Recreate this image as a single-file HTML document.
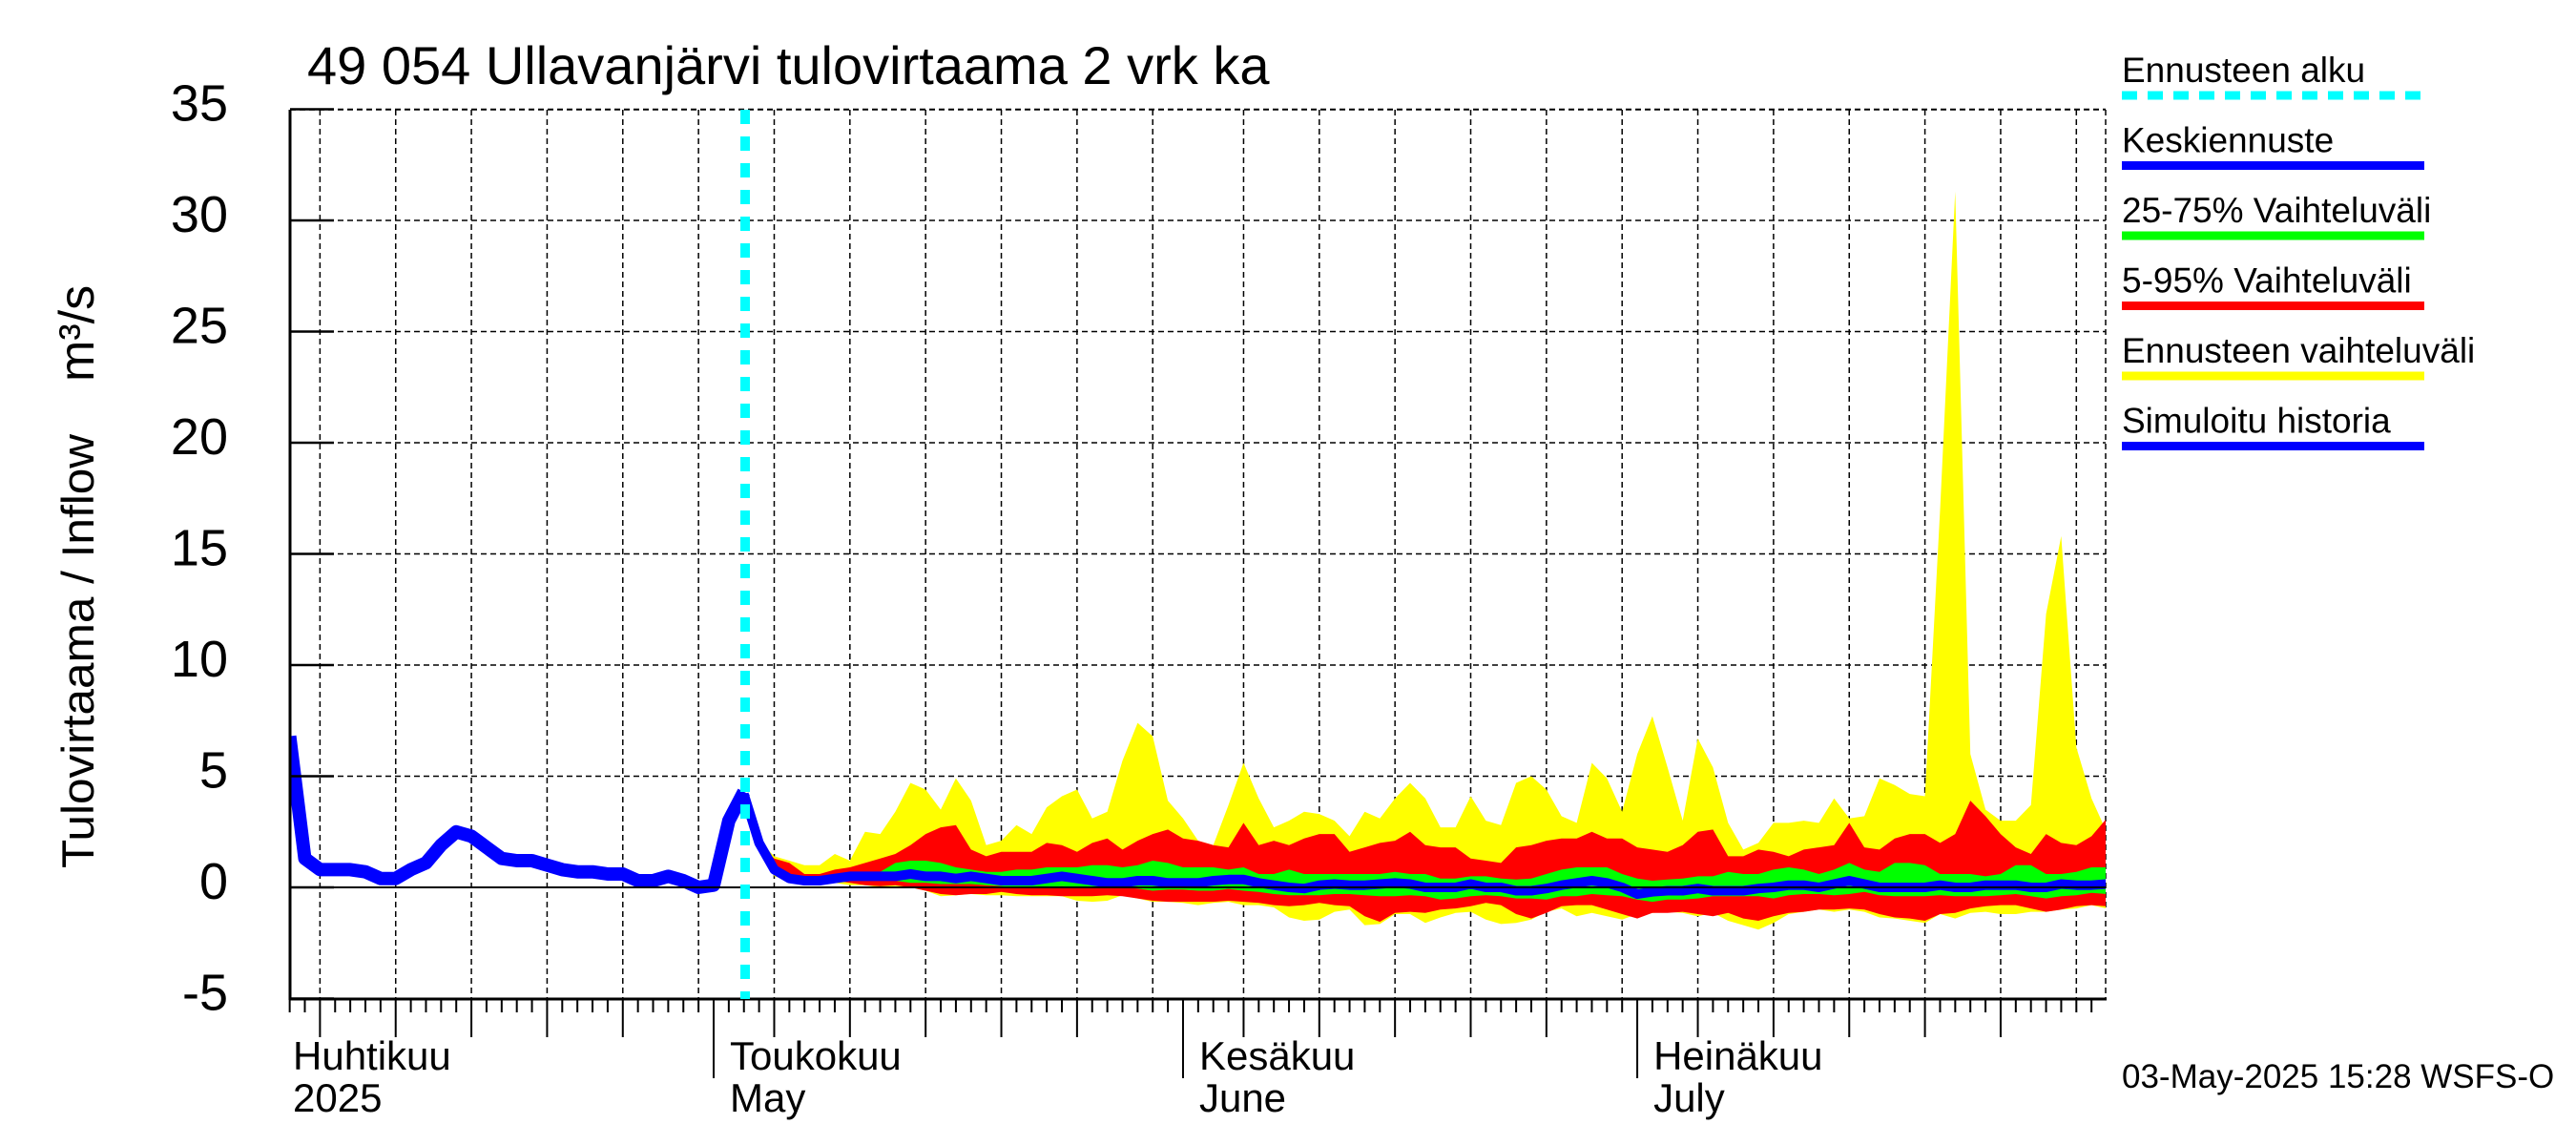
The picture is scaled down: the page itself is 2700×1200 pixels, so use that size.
<!DOCTYPE html>
<html><head><meta charset="utf-8"><style>
html,body{margin:0;padding:0;background:#fff;}
svg{display:block;font-family:"Liberation Sans",Arial,sans-serif;}
</style></head><body>
<svg id="chart" width="2700" height="1200" viewBox="0 0 2700 1200" xmlns="http://www.w3.org/2000/svg">
<rect x="0" y="0" width="2700" height="1200" fill="#fff"/>
<text x="322" y="88" font-size="56">49 054 Ullavanjärvi tulovirtaama 2 vrk ka</text>
<text transform="translate(98,910) rotate(-90)" font-size="47" textLength="455" lengthAdjust="spacingAndGlyphs">Tulovirtaama / Inflow</text>
<text transform="translate(98,400) rotate(-90)" font-size="52">m³/s</text>
<defs><clipPath id="pc"><rect x="304" y="115" width="1903" height="932"/></clipPath></defs>
<g id="grid"></g>
<g id="bands" clip-path="url(#pc)"></g>
<g id="lines" clip-path="url(#pc)"></g>
<g id="axes"></g>
<g id="legend"></g>
<text x="2224" y="1140" font-size="35">03-May-2025 15:28 WSFS-O</text>
</svg>
<script>
// ---- data ----
const yTicks = [-5,0,5,10,15,20,25,30,35];
const yTickLabels = ["-5","0","5","10","15","20","25","30","35"];
const monthLabelsFi = ["Huhtikuu","Toukokuu","Kesäkuu","Heinäkuu"];
const monthLabelsEn = ["2025","May","June","July"];
const monthStartDays = [-30,0,31,61];
const forecastStartDay = 2.08;
const historyStartDay = -28;
const history = [6.8,1.3,0.8,0.8,0.8,0.7,0.4,0.4,0.8,1.1,1.9,2.5,2.3,1.8,1.3,1.2,1.2,1.0,0.8,0.7,0.7,0.6,0.6,0.3,0.3,0.5,0.3,0.0,0.1,3.0,4.3];
const forecastStartIdx = 2;
const yellowUpper = [4.2,2.1,1.4,1.2,1.0,1.0,1.5,1.2,2.5,2.4,3.4,4.7,4.4,3.5,4.9,3.9,1.9,2.1,2.8,2.4,3.6,4.1,4.4,3.1,3.4,5.7,7.4,6.8,3.9,3.1,2.1,1.9,3.7,5.6,4.0,2.7,3.0,3.4,3.3,3.0,2.3,3.4,3.1,4.0,4.7,4.0,2.7,2.7,4.1,3.0,2.8,4.7,5.0,4.4,3.2,2.9,5.6,4.9,3.4,6.0,7.7,5.4,3.0,6.7,5.4,2.9,1.7,2.0,2.9,2.9,3.0,2.9,4.0,3.1,3.2,4.9,4.6,4.2,4.1,17,31.3,6.0,3.5,3.0,3.0,3.7,12.3,15.8,6.3,4.0,2.5];
const redUpper = [4.2,2.0,1.3,1.1,0.6,0.6,0.8,0.9,1.1,1.3,1.5,1.9,2.4,2.7,2.8,1.7,1.4,1.6,1.6,1.6,2.0,1.9,1.6,2.0,2.2,1.7,2.1,2.4,2.6,2.2,2.1,1.9,1.8,2.9,1.9,2.1,1.9,2.2,2.4,2.4,1.6,1.8,2.0,2.1,2.5,1.9,1.8,1.8,1.3,1.2,1.1,1.8,1.9,2.1,2.2,2.2,2.5,2.2,2.2,1.8,1.7,1.6,1.9,2.5,2.6,1.4,1.4,1.7,1.6,1.4,1.7,1.8,1.9,2.9,1.8,1.7,2.2,2.4,2.4,2.0,2.4,3.9,3.2,2.4,1.8,1.5,2.4,2.0,1.9,2.3,3.1];
const greenUpper = [4.2,2.0,0.9,0.5,0.4,0.4,0.5,0.6,0.6,0.7,1.1,1.2,1.2,1.1,0.9,0.8,0.7,0.7,0.8,0.8,0.9,0.9,0.9,1.0,1.0,0.9,1.0,1.2,1.1,0.9,0.9,0.9,0.8,0.9,0.6,0.6,0.8,0.6,0.6,0.6,0.6,0.6,0.6,0.7,0.6,0.6,0.4,0.4,0.5,0.5,0.4,0.35,0.4,0.6,0.8,0.9,0.9,0.9,0.6,0.4,0.3,0.35,0.4,0.5,0.5,0.7,0.6,0.6,0.8,0.9,0.8,0.6,0.8,1.1,0.8,0.7,1.1,1.1,1.0,0.6,0.6,0.6,0.5,0.6,1.0,1.0,0.6,0.6,0.7,0.9,0.9];
const median = [4.2,2.0,0.8,0.4,0.3,0.3,0.4,0.5,0.5,0.5,0.5,0.6,0.5,0.5,0.4,0.5,0.4,0.3,0.3,0.3,0.4,0.5,0.4,0.3,0.2,0.2,0.3,0.3,0.2,0.2,0.2,0.3,0.35,0.35,0.2,0.1,0,-0.05,0.1,0.15,0.1,0.1,0.15,0.2,0.15,0,0,0,0.15,0,0,-0.15,-0.15,-0.05,0.1,0.2,0.3,0.2,0,-0.3,-0.2,-0.15,-0.15,-0.05,-0.15,-0.15,-0.15,-0.05,0,0.1,0.1,0,0.15,0.3,0.15,0,0,0,0,0.1,0,0,0.1,0.1,0.1,0,0,0.15,0.1,0.1,0.15];
const greenLower = [4.2,2.0,0.7,0.35,0.3,0.3,0.35,0.4,0.4,0.3,0.3,0.2,0.2,0.15,0.15,0.15,0.1,0.05,0,0,0,0.05,0,0,0,0,-0.05,-0.15,-0.1,-0.1,-0.15,-0.15,-0.07,-0.15,-0.2,-0.3,-0.35,-0.35,-0.35,-0.3,-0.3,-0.35,-0.4,-0.4,-0.35,-0.4,-0.55,-0.5,-0.4,-0.35,-0.4,-0.5,-0.5,-0.55,-0.4,-0.4,-0.3,-0.35,-0.4,-0.55,-0.65,-0.55,-0.55,-0.5,-0.4,-0.4,-0.4,-0.4,-0.5,-0.35,-0.3,-0.3,-0.35,-0.3,-0.2,-0.35,-0.4,-0.4,-0.4,-0.35,-0.4,-0.4,-0.4,-0.35,-0.3,-0.4,-0.5,-0.4,-0.35,-0.25,-0.3];
const redLower = [4.2,1.9,0.6,0.3,0.3,0.25,0.3,0.2,0.1,0.05,0.1,0,-0.15,-0.3,-0.35,-0.3,-0.3,-0.2,-0.3,-0.35,-0.35,-0.4,-0.4,-0.4,-0.35,-0.4,-0.5,-0.6,-0.65,-0.65,-0.65,-0.65,-0.6,-0.65,-0.7,-0.8,-0.85,-0.8,-0.7,-0.8,-0.85,-1.3,-1.55,-1.15,-1.1,-1.15,-1.0,-0.95,-0.85,-0.7,-0.8,-1.2,-1.4,-1.15,-0.85,-0.8,-0.8,-1.0,-1.2,-1.4,-1.15,-1.15,-1.1,-1.2,-1.3,-1.15,-1.4,-1.5,-1.3,-1.15,-1.1,-1.0,-1.0,-0.95,-1.0,-1.2,-1.35,-1.4,-1.5,-1.2,-1.15,-0.95,-0.85,-0.8,-0.8,-0.95,-1.1,-1.0,-0.85,-0.8,-0.85];
const yellowLower = [4.2,1.9,0.5,0.3,0.25,0.2,0.2,0.1,0.1,0,0.05,0,-0.15,-0.4,-0.35,-0.3,-0.35,-0.35,-0.4,-0.4,-0.4,-0.4,-0.6,-0.65,-0.6,-0.35,-0.5,-0.65,-0.65,-0.7,-0.8,-0.7,-0.65,-0.8,-0.8,-0.9,-1.35,-1.5,-1.45,-1.1,-1.0,-1.7,-1.65,-1.2,-1.2,-1.6,-1.35,-1.15,-1.1,-1.45,-1.65,-1.6,-1.45,-1.1,-0.95,-1.3,-1.15,-1.3,-1.45,-1.2,-1.15,-1.1,-1.15,-1.3,-1.15,-1.5,-1.7,-1.9,-1.6,-1.2,-1.1,-1.0,-1.1,-1.0,-1.1,-1.35,-1.4,-1.5,-1.6,-1.2,-1.4,-1.15,-1.1,-1.2,-1.2,-1.1,-1.1,-1.0,-0.95,-0.8,-0.95];

// ---- axes ----
const X0 = 748, PXD = 15.87, L = 304, R = 2207, T = 115, B = 1047;
const xs = t => X0 + t * PXD;
const ys = v => 930 - v * 23.3;
const NS = "http://www.w3.org/2000/svg";
function mk(tag, attrs, parent){
  const e = document.createElementNS(NS, tag);
  for (const k in attrs) e.setAttribute(k, attrs[k]);
  parent.appendChild(e); return e;
}
const grid = document.getElementById('grid'), axes = document.getElementById('axes');
const bands = document.getElementById('bands'), lines = document.getElementById('lines');
const legend = document.getElementById('legend');

yTicks.forEach((v,i) => {
  const y = ys(v);
  if (v !== 0) {
    const g = mk('line', {x1:L, x2:R, y1:y, y2:y, stroke:'#000', 'stroke-width':1.5, 'stroke-dasharray':'6,4'}, grid);
    
    
  }
  const tk = mk('line', {x1:L, x2:L+46, y1:y, y2:y, stroke:'#000', 'stroke-width':2.5}, axes);
  
  
  const tx = mk('text', {x:239, y:y+12, 'font-size':54, 'text-anchor':'end'}, axes);
  tx.textContent = yTickLabels[i];
  
  
});
const zl = mk('line', {x1:L, x2:R, y1:ys(0), y2:ys(0), stroke:'#000', 'stroke-width':2}, axes);



const monthLens = [30,31,30,31];
for (let m = 0; m < 4; m++) {
  for (let d = 1; d <= monthLens[m]; d++) {
    const t = monthStartDays[m] + d - 1;
    const x = xs(t);
    if (x < L - 0.5 || x > R + 0.5) continue;
    let len = 14;
    if (d === 1) len = 83;
    else if (d % 5 === 0 && d < 30) len = 40;
    const tk = mk('line', {x1:x, x2:x, y1:B, y2:B+len, stroke:'#000', 'stroke-width':2}, axes);
    
    
    if (d % 5 === 0) {
      const g = mk('line', {x1:x, x2:x, y1:T, y2:B, stroke:'#000', 'stroke-width':1.5, 'stroke-dasharray':'6,4'}, grid);
      
      
    }
  }
}
const rg = mk('line', {x1:R, x2:R, y1:T, y2:B, stroke:'#000', 'stroke-width':1.5, 'stroke-dasharray':'6,4'}, grid);


const tg = mk('line', {x1:L, x2:R, y1:T, y2:T, stroke:'#000', 'stroke-width':1.5, 'stroke-dasharray':'6,4'}, grid);


const ya = mk('line', {x1:L, x2:L, y1:T, y2:B+1, stroke:'#000', 'stroke-width':3}, axes);


const xa = mk('line', {x1:L, x2:R+1, y1:B, y2:B, stroke:'#000', 'stroke-width':3}, axes);



monthLabelsFi.forEach((lab,i) => {
  const x = Math.max(L + 3, xs(monthStartDays[i]) + 17);
  const a = mk('text', {x:x, y:1121, 'font-size':42}, axes);
  a.textContent = lab;
  
  
  const b = mk('text', {x:x, y:1165, 'font-size':42}, axes);
  b.textContent = monthLabelsEn[i];
  
  
});

function band(up, lo, color, name){
  let d = '';
  up.forEach((v,i) => { d += (i ? 'L' : 'M') + xs(forecastStartIdx + i).toFixed(1) + ',' + ys(v).toFixed(1); });
  for (let i = lo.length - 1; i >= 0; i--) d += 'L' + xs(forecastStartIdx + i).toFixed(1) + ',' + ys(lo[i]).toFixed(1);
  const p = mk('path', {d: d + 'Z', fill: color}, bands);
  
  
}
band(yellowUpper, yellowLower, '#ffff00', 'forecast-range-band');
band(redUpper, redLower, '#ff0000', 'band-5-95');
band(greenUpper, greenLower, '#00ff00', 'band-25-75');

function line(arr, start, w, name){
  const pts = arr.map((v,i) => xs(start + i).toFixed(1) + ',' + ys(v).toFixed(1)).join(' ');
  const p = mk('polyline', {points: pts, fill:'none', stroke:'#0000ff', 'stroke-width': w, 'stroke-linejoin':'round'}, lines);
  
  
}
line(median, forecastStartIdx, 10, 'median-forecast-line');
line(history, historyStartDay, 14, 'simulated-history-line');

const cx = xs(forecastStartDay);
const cy = mk('line', {x1:cx, x2:cx, y1:T, y2:B, stroke:'#00ffff', 'stroke-width':10, 'stroke-dasharray':'15,13'}, axes);



const legNames = ["Ennusteen alku","Keskiennuste","25-75% Vaihteluväli","5-95% Vaihteluväli","Ennusteen vaihteluväli","Simuloitu historia"];
const legColors = ["#00ffff","#0000ff","#00ff00","#ff0000","#ffff00","#0000ff"];
legNames.forEach((n,i) => {
  const by = 86 + i * 73.5;
  const t = mk('text', {x:2224, y:by, 'font-size':37}, legend);
  t.textContent = n;
  
  
  const attrs = {x1:2224, x2:2541, y1:by+14, y2:by+14, stroke:legColors[i], 'stroke-width':9};
  if (i === 0) attrs['stroke-dasharray'] = '16,11';
  const l = mk('line', attrs, legend);
  
  
});
</script>
</body></html>
